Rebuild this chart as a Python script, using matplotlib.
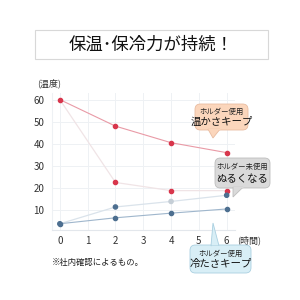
import matplotlib
matplotlib.use("Agg")
import matplotlib.pyplot as plt
from matplotlib.patches import FancyBboxPatch, Polygon, Rectangle

plt.rcParams['font.family'] = ['Noto Sans CJK JP', 'DejaVu Sans']

hours = [0, 2, 4, 6]
warm_holder = [60, 48, 40.5, 36]
warm_no_holder = [60, 22.5, 18.8, 18.8]
cold_holder = [3.8, 6.5, 8.6, 10.5]
cold_no_holder = [3.8, 11.4, 13.9, 16.7]
x_ticks = [0, 1, 2, 3, 4, 5, 6]
y_ticks = [10, 20, 30, 40, 50, 60]

title = "保温･保冷力が持続！"
note = "※社内確認によるもの。"

W = H = 300
fig = plt.figure(figsize=(3, 3), dpi=100)
fig.patch.set_facecolor('white')

def fx(px):
    return px / W

def fy(py):
    return 1 - py / H

ax = fig.add_axes([fx(51.5), fy(229.5), fx(235) - fx(51.5), fy(93) - fy(229.5)])
ax.set_xlim(-0.3, 6.3)
ax.set_ylim(1.2, 63)
ax.set_xticks(x_ticks)
ax.set_yticks(y_ticks)
ax.grid(True, color='#eef1f4', linewidth=0.7)
ax.set_axisbelow(True)
for s in ['top', 'right']:
    ax.spines[s].set_visible(False)
ax.spines['left'].set_color('#eef1f4')
ax.spines['bottom'].set_color('#e3e7ec')
ax.tick_params(length=0, labelsize=7, colors='#333333', pad=5)

# no-holder lines
ax.plot(hours, warm_no_holder, color='#f0e4e6', lw=0.9, zorder=2)
ax.plot(hours, cold_no_holder, color='#dae3eb', lw=0.9, zorder=2)
# holder lines
ax.plot(hours, warm_holder, color='#e99aa6', lw=0.8, zorder=3)
ax.plot(hours, cold_holder, color='#9fb6cc', lw=0.8, zorder=3)

ax.scatter(hours, warm_holder, s=9, color='#d8364c', zorder=4)
ax.scatter(hours[1:], warm_no_holder[1:], s=9, color='#d8364c', zorder=4)
ax.scatter(hours, cold_holder, s=9, color='#4d6f90', zorder=4)
cold_nh_colors = ['#4d6f90', '#4d6f90', '#c5ced6', '#4d6f90']
ax.scatter(hours, cold_no_holder, s=9, color=cold_nh_colors, zorder=4)

fig.text(fx(37), fy(83), "(温度)", fontsize=6.5, color='#333333', va='center', ha='left')
fig.text(fx(237), fy(240), "(時間)", fontsize=6.5, color='#333333', va='center', ha='left')
fig.text(fx(52), fy(263), note, fontsize=6, color='#222222', va='center', ha='left')

# title box
fig.patches.append(Rectangle((fx(35), fy(59)), fx(268) - fx(35), fy(30) - fy(59),
                             transform=fig.transFigure, facecolor='white',
                             edgecolor='#d8d8d8', lw=0.8))
fig.text(fx(151.5), fy(45), title, fontsize=12.5, color='#111111', ha='center', va='center')


def callout(x0, y0, x1, y1, tail, fc, ec, small, big):
    box = FancyBboxPatch((fx(x0), fy(y1)), fx(x1) - fx(x0), fy(y0) - fy(y1),
                         boxstyle="round,pad=0,rounding_size=0.018",
                         transform=fig.transFigure, facecolor=fc, edgecolor=ec, lw=0.6,
                         zorder=5)
    fig.patches.append(box)
    tri = Polygon([(fx(px), fy(py)) for px, py in tail], closed=True,
                  transform=fig.transFigure, facecolor=fc, edgecolor=ec, lw=0.6, zorder=5)
    fig.patches.append(tri)
    seam = Polygon([(fx(px), fy(py)) for px, py in tail[:1] + tail[2:]], closed=False,
                   transform=fig.transFigure, fill=False, edgecolor=fc, lw=1.0, zorder=5.5)
    fig.patches.append(seam)
    cx = (x0 + x1) / 2
    fig.text(fx(cx), fy(y0 + (y1 - y0) * 0.3), small, fontsize=5.3, color='#222222',
             ha='center', va='center', zorder=6)
    fig.text(fx(cx), fy(y0 + (y1 - y0) * 0.69), big, fontsize=7.5, color='#111111',
             ha='center', va='center', zorder=6)


callout(195, 104, 248, 130, [(208, 129.2), (213, 138), (220, 129.2)],
        '#fbd6bc', '#e9bca0', "ホルダー使用", "温かさキープ")
callout(215, 158, 270, 188, [(233, 187.2), (233, 197), (243, 187.2)],
        '#dadada', '#bdbdbd', "ホルダー未使用", "ぬるくなる")
callout(190, 245, 251, 273, [(211, 245.8), (213, 223), (219, 245.8)],
        '#d8eef6', '#a9cfe0', "ホルダー使用", "冷たさキープ")

fig.savefig("out.png", dpi=100)
